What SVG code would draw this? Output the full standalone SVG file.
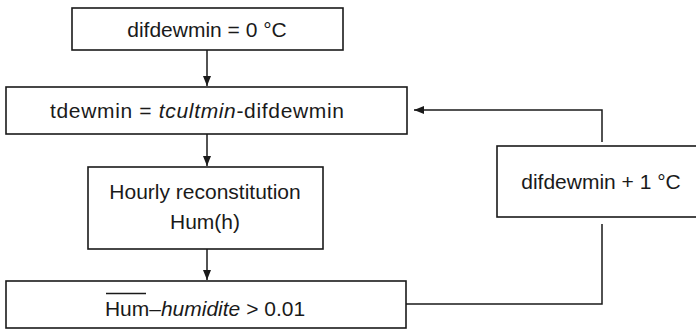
<svg xmlns="http://www.w3.org/2000/svg" width="696" height="329" viewBox="0 0 696 329">
<style>
.box{fill:#fff;stroke:#1a1a1a;stroke-width:1.6}
.t{font-family:"Liberation Sans",Arial,sans-serif;font-size:21px;fill:#1a1a1a;text-anchor:middle}
.c{fill:none;stroke:#1a1a1a;stroke-width:1.5}
</style>
<defs>
<marker id="ah" markerWidth="10" markerHeight="8" refX="10" refY="4" orient="auto" markerUnits="userSpaceOnUse">
<path d="M0,0 L10,4 L0,8 Z" fill="#1a1a1a"/>
</marker>
</defs>
<rect width="696" height="329" fill="#fff"/>
<g id="n1">
<rect class="box" x="72" y="8" width="271" height="42"/>
<text class="t" x="207" y="37">difdewmin = 0 °C</text>
</g>
<g id="n2">
<rect class="box" x="6" y="87" width="401" height="47"/>
<text class="t" x="197" y="118" textLength="294" lengthAdjust="spacing">tdewmin = <tspan font-style="italic">tcultmin</tspan>-difdewmin</text>
</g>
<g id="n3">
<rect class="box" x="88" y="167" width="235" height="82"/>
<text class="t" x="205" y="199">Hourly reconstitution</text>
<text class="t" x="205" y="229">Hum(h)</text>
</g>
<g id="n4">
<rect class="box" x="6" y="281" width="400" height="47"/>
<text class="t" x="205" y="316">Hum–<tspan font-style="italic">humidite</tspan> &gt; 0.01</text>
<line x1="106" y1="293.5" x2="146" y2="293.5" stroke="#1a1a1a" stroke-width="1.3"/>
</g>
<g id="n5">
<rect class="box" x="497" y="146" width="205" height="71"/>
<text class="t" x="601" y="189">difdewmin + 1 °C</text>
</g>
<g id="connectors">
<line class="c" x1="207" y1="50" x2="207" y2="86" marker-end="url(#ah)"/>
<line class="c" x1="207" y1="134" x2="207" y2="166" marker-end="url(#ah)"/>
<line class="c" x1="207" y1="249" x2="207" y2="280" marker-end="url(#ah)"/>
<polyline class="c" points="406,304 602,304 602,224"/>
<polyline class="c" points="602,142 602,110 414,110" marker-end="url(#ah)"/>
</g>
</svg>
